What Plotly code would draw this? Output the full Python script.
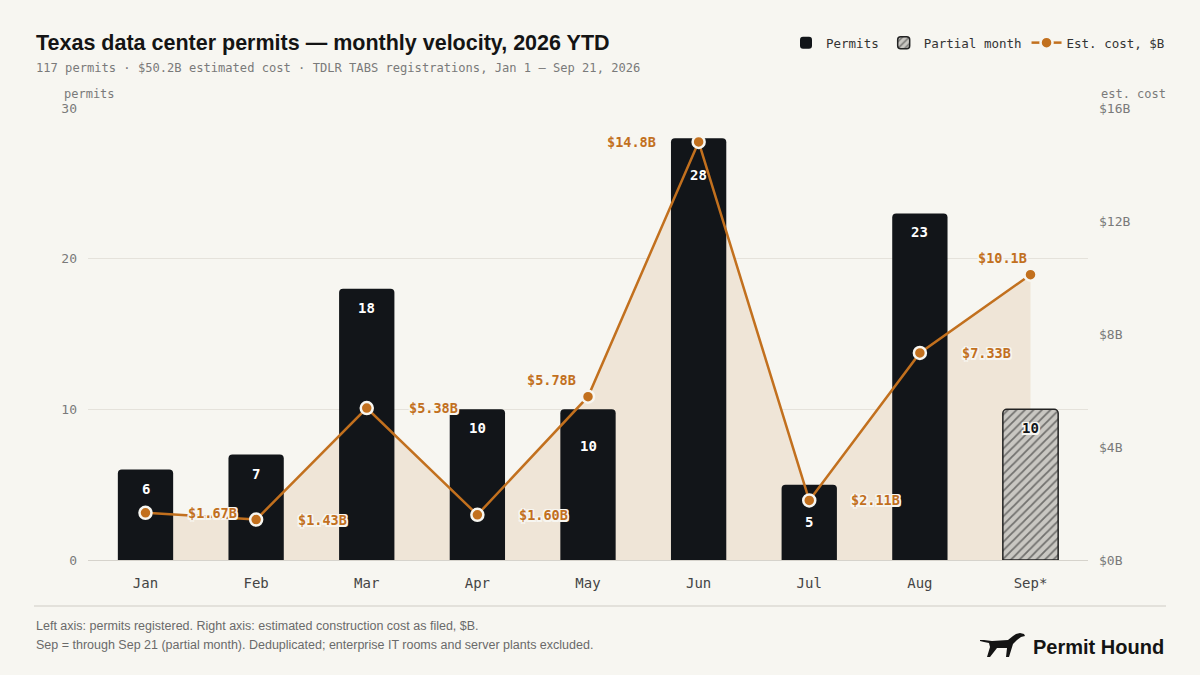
import plotly.graph_objects as go

# data
months = ["Jan", "Feb", "Mar", "Apr", "May", "Jun", "Jul", "Aug", "Sep*"]
permits = [6, 7, 18, 10, 10, 28, 5, 23, 10]
cost_b = [1.67, 1.43, 5.38, 1.60, 5.78, 14.8, 2.11, 7.33, 10.1]
partial = [False, False, False, False, False, False, False, False, True]
left_ticks = [0, 10, 20, 30]
right_ticks = [0, 4, 8, 12, 16]

BG = "#f7f6f1"
INK = "#121519"
ORANGE = "#c2701e"
TAN = "#efe5d7"
GRID = "#e5e2db"
MUTED = "#7a7a7a"
MONO = "DejaVu Sans Mono"
SANS = "Liberation Sans"

W, H = 1200, 675
L, R, T, B = 88, 112, 108, 115


def px(x, y):
    # screen pixel -> paper coords
    return (x - L) / (W - L - R), (H - B - y) / (H - T - B)


halo = ", ".join(f"{dx}px {dy}px 0 {BG}" for dx in (-1.5, 0, 1.5) for dy in (-1.5, 0, 1.5))

full_x = [m for m, p in zip(months, partial) if not p]
full_y = [v for v, p in zip(permits, partial) if not p]
part_x = [m for m, p in zip(months, partial) if p]
part_y = [v for v, p in zip(permits, partial) if p]

fig = go.Figure()

# tan area under the cost line (hidden cost axis, drawn below bars)
fig.add_trace(go.Scatter(
    x=months, y=cost_b, yaxis="y", mode="lines", fill="tozeroy",
    fillcolor=TAN, line=dict(width=0, color=TAN), showlegend=False,
    hoverinfo="skip"))

fig.add_trace(go.Bar(
    x=full_x, y=full_y, yaxis="y2", name="Permits",
    marker=dict(color=INK, cornerradius=4, line=dict(width=0))))

fig.add_trace(go.Bar(
    x=part_x, y=part_y, yaxis="y2", name="Partial month",
    marker=dict(color="#c9c7c2", cornerradius=4,
                line=dict(color="#222", width=1.5),
                pattern=dict(shape="/", size=6, solidity=0.3,
                             fgcolor="#1a1a1a", bgcolor="#c9c7c2"))))

fig.add_trace(go.Scatter(
    x=months, y=cost_b, yaxis="y3", name="Est. cost, $B",
    mode="lines+markers", line=dict(color=ORANGE, width=2.5),
    marker=dict(color=ORANGE, size=12, line=dict(color=BG, width=2.5))))

annotations = []

# bar value labels, pushed down where the cost point sits on the bar top
for m, v, c, p in zip(months, permits, cost_b, partial):
    near = abs(c * 30 / 16 - v) < 1.5
    annotations.append(dict(
        x=m, y=v, xref="x", yref="y2", text=str(v), showarrow=False,
        yanchor="middle", yshift=-37 if near else -19,
        font=dict(family=MONO, size=14, weight="bold",
                  color=INK if p else "#ffffff",
                  shadow=halo if p else "none")))

# cost labels: (xanchor, xshift, yshift)
place = {"May": ("right", -10, 17), "Jun": ("right", -41, 0),
         "Sep*": ("right", -2, 17)}
for m, c in zip(months, cost_b):
    xa, xs, ys = place.get(m, ("left", 40, 0))
    label = f"${c:.1f}B" if c >= 10 else f"${c:.2f}B"
    annotations.append(dict(
        x=m, y=c, xref="x", yref="y3", text=label, showarrow=False,
        xanchor=xa, xshift=xs, yshift=ys,
        font=dict(family=MONO, size=13.5, weight="bold", color=ORANGE,
                  shadow=halo)))

# headings and notes
tx, ty = px(34, 43)
annotations.append(dict(
    x=tx, y=ty, xref="paper", yref="paper", xanchor="left", yanchor="middle",
    showarrow=False, text="Texas data center permits — monthly velocity, 2026 YTD",
    font=dict(family=SANS, size=21.5, weight="bold", color="#141414")))
sx, sy = px(34, 68)
annotations.append(dict(
    x=sx, y=sy, xref="paper", yref="paper", xanchor="left", yanchor="middle",
    showarrow=False,
    text="117 permits · $50.2B estimated cost · TDLR TABS registrations, Jan 1 – Sep 21, 2026",
    font=dict(family=MONO, size=12.1, color=MUTED)))
ax, ay = px(62, 94)
annotations.append(dict(
    x=ax, y=ay, xref="paper", yref="paper", xanchor="left", yanchor="middle",
    showarrow=False, text="permits", font=dict(family=MONO, size=12, color=MUTED)))
bx, by = px(1099, 94)
annotations.append(dict(
    x=bx, y=by, xref="paper", yref="paper", xanchor="left", yanchor="middle",
    showarrow=False, text="est. cost", font=dict(family=MONO, size=12, color=MUTED)))
for yy, txt in [(626, "Left axis: permits registered. Right axis: estimated construction cost as filed, $B."),
                (645, "Sep = through Sep 21 (partial month). Deduplicated; enterprise IT rooms and server plants excluded.")]:
    fx, fy = px(34, yy)
    annotations.append(dict(
        x=fx, y=fy, xref="paper", yref="paper", xanchor="left", yanchor="middle",
        showarrow=False, text=txt, font=dict(family=SANS, size=12.5, color="#6a6a6a")))
lx, ly = px(1166, 647)
annotations.append(dict(
    x=lx, y=ly, xref="paper", yref="paper", xanchor="right", yanchor="middle",
    showarrow=False, text="Permit Hound",
    font=dict(family=SANS, size=20, weight="bold", color="#141414")))

# footer rule and hound mark
x0, yl = px(34, 606)
x1, _ = px(1166, 606)
dx, dy = px(980, 646)
hound = ("M 0 6 L 4 6 L 12 5 L 28 6 L 33 10 L 36 12 L 40 13 L 44 12 L 45 10 "
         "L 41 9 L 37 6 L 33 2 L 29 -11 L 26 -11 L 27 -2 L 17 -2 L 10 -11 "
         "L 7 -11 L 10 -1 L 9 3 L 4 4 L 0 5 Z")
shapes = [
    dict(type="line", xref="paper", yref="paper", x0=x0, x1=x1, y0=yl, y1=yl,
         line=dict(color="#dddad3", width=1.5)),
    dict(type="path", xref="paper", yref="paper", xsizemode="pixel",
         ysizemode="pixel", xanchor=dx, yanchor=dy, path=hound,
         fillcolor="#141414", line=dict(width=0)),
]

legx, legy = px(1170, 43)
fig.update_layout(
    width=W, height=H, margin=dict(l=L, r=R, t=T, b=B),
    paper_bgcolor=BG, plot_bgcolor=BG,
    barmode="overlay", bargap=0.5,
    showlegend=True,
    legend=dict(orientation="h", x=legx, y=legy, xanchor="right",
                yanchor="middle", font=dict(family=MONO, size=12.5, color="#333"),
                bgcolor="rgba(0,0,0,0)", itemwidth=30),
    xaxis=dict(showgrid=False, showline=True, linecolor="#d6d3cc", linewidth=1,
               ticks="", ticklabelstandoff=10,
               tickfont=dict(family=MONO, size=14, color="#444"),
               fixedrange=True),
    yaxis=dict(range=[0, 16], visible=False, showgrid=False),
    yaxis2=dict(overlaying="y", side="left", range=[0, 30], tickvals=left_ticks,
                showgrid=True, gridcolor=GRID, gridwidth=1, zeroline=False,
                ticklabelstandoff=10,
                tickfont=dict(family=MONO, size=13, color=MUTED), ticks=""),
    yaxis3=dict(overlaying="y", side="right", range=[0, 16], tickvals=right_ticks,
                ticktext=[f"${t}B" for t in right_ticks], showgrid=False,
                zeroline=False, ticklabelstandoff=10,
                tickfont=dict(family=MONO, size=13, color=MUTED), ticks=""),
    annotations=annotations, shapes=shapes,
    hovermode=False,
)

fig.write_html("out.html", config={"displayModeBar": False},
               post_script="document.body.style.margin='0';")
